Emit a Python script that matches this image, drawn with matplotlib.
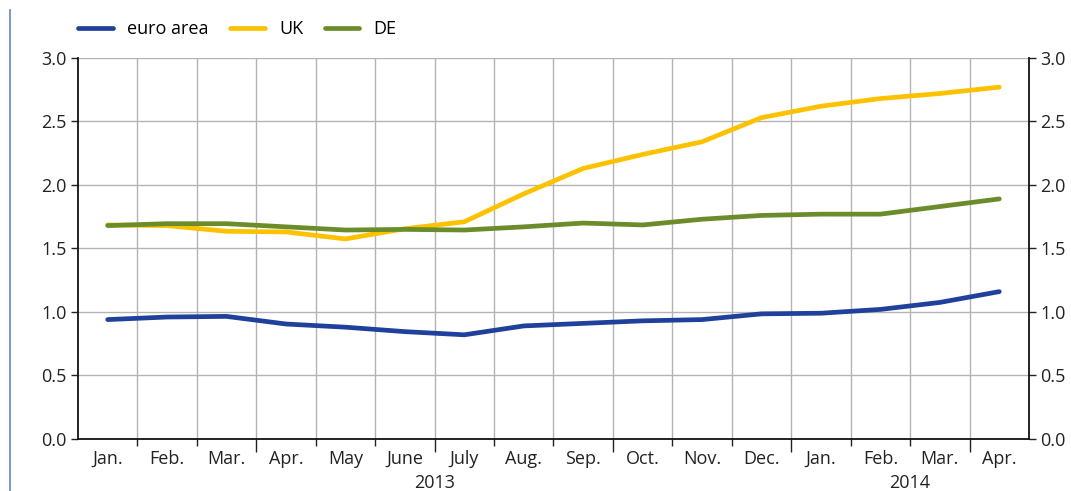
import matplotlib
matplotlib.use("Agg")
import matplotlib.pyplot as plt
from matplotlib.lines import Line2D

plt.rcParams['font.family'] = ['Open Sans', 'DejaVu Sans']

months = ["Jan.", "Feb.", "Mar.", "Apr.", "May", "June", "July", "Aug.",
          "Sep.", "Oct.", "Nov.", "Dec.", "Jan.", "Feb.", "Mar.", "Apr."]
euro_area = [0.94, 0.96, 0.965, 0.905, 0.88, 0.845, 0.82, 0.89,
             0.91, 0.93, 0.94, 0.985, 0.99, 1.02, 1.075, 1.16]
uk = [1.685, 1.68, 1.635, 1.63, 1.575, 1.655, 1.71, 1.93,
      2.13, 2.24, 2.34, 2.53, 2.62, 2.68, 2.72, 2.77]
de = [1.68, 1.695, 1.695, 1.67, 1.645, 1.65, 1.645, 1.67,
      1.70, 1.685, 1.73, 1.76, 1.77, 1.77, 1.83, 1.89]
years = ["2013", "2014"]

fs = 13
tc = '#222222'

fig = plt.figure(figsize=(10.71, 4.91), dpi=100)
ax = fig.add_axes([0.0728, 0.106, 0.888, 0.776])

x = list(range(len(months)))
lw = 3.4
ax.plot(x, euro_area, color='#1f419b', lw=lw, solid_capstyle='round', label='euro area', zorder=3)
ax.plot(x, uk, color='#fcc200', lw=lw, solid_capstyle='round', label='UK', zorder=3)
ax.plot(x, de, color='#6b8c2b', lw=lw, solid_capstyle='round', label='DE', zorder=4)

ax.set_xlim(-0.5, len(months) - 0.5)
ax.set_ylim(0, 3.0)
ax.set_yticks([0, 0.5, 1.0, 1.5, 2.0, 2.5, 3.0])
ax.set_yticklabels([f"{v:.1f}" for v in [0, 0.5, 1.0, 1.5, 2.0, 2.5, 3.0]])

# month boundaries for grid and ticks
bounds = [i + 0.5 for i in range(len(months) - 1)]
ax.set_xticks(bounds)
ax.set_xticklabels([])
ax.set_xticks(x, minor=True)
ax.set_xticklabels(months, minor=True)
ax.tick_params(axis='x', which='minor', length=0, pad=8, labelsize=fs, colors=tc)
ax.tick_params(axis='x', which='major', length=5, width=1, color='#222222')
for i, t in enumerate(ax.xaxis.get_major_ticks()):
    if (i + 1) % 3 == 0:
        t.tick1line.set_markersize(9)

ax.grid(True, which='major', axis='both', color='#b4b4b4', lw=1)
ax.set_axisbelow(True)

ax.tick_params(axis='y', which='major', length=5, width=1, labelsize=fs, colors=tc, pad=3,
               left=True, right=True, labelleft=True, labelright=True)
ax.spines['top'].set_visible(False)
for s in ['left', 'right', 'bottom']:
    ax.spines[s].set_color('#111111')
    ax.spines[s].set_linewidth(1.3)

# year labels
ax.text(5.5, -0.092, years[0], transform=ax.get_xaxis_transform(), ha='center', va='top',
        fontsize=fs, color=tc)
ax.text(13.5, -0.092, years[1], transform=ax.get_xaxis_transform(), ha='center', va='top',
        fontsize=fs, color=tc)

handles = [Line2D([], [], color='#1f419b', lw=lw, solid_capstyle='round'),
           Line2D([], [], color='#fcc200', lw=lw, solid_capstyle='round'),
           Line2D([], [], color='#6b8c2b', lw=lw, solid_capstyle='round')]
fig.legend(handles, ['euro area', 'UK', 'DE'], loc='center left', bbox_to_anchor=(0.058, 0.94),
           ncol=3, frameon=False, fontsize=fs, handlelength=1.9, columnspacing=1.2,
           handletextpad=0.8)

# left decorative rule
fig.add_artist(Line2D([0.0095, 0.0095], [0.0, 0.98], color='#6f8fc8', lw=1.3))

fig.savefig('out.png', dpi=100)
